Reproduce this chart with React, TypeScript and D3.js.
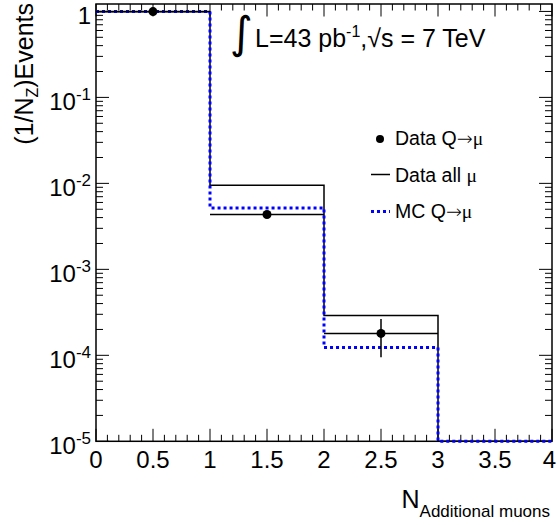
import React from "react";
import * as d3 from "d3";

// ---- data ----
const binEdges = [0, 1, 2, 3, 4];
const dataQ = [0.9955, 0.00435, 0.00018, 0];
const dataQErr = [0.003, 0.0004, 0.000085, 0];
const dataAll = [0.99, 0.0095, 0.00029, 0];
const mcQ = [0.9947, 0.00516, 0.000123, 0];
const xTickLabels = ["0", "0.5", "1", "1.5", "2", "2.5", "3", "3.5", "4"];
const yTickExps = [0, -1, -2, -3, -4, -5];

const W = 557;
const H = 525;
const left = 96;
const right = 552;
const top = 4;
const bottom = 441.3;

const font = "'Liberation Sans', Arial, Helvetica, sans-serif";
const arrowFont = "'DejaVu Sans', sans-serif";
const greekFont = "'Liberation Serif', serif";

export default function App() {
  const x = d3.scaleLinear().domain([0, 4]).range([left, right]);
  const y = d3.scaleLog().domain([1e-5, 1.22]).range([bottom, top]);
  const yv = (v: number) => (v > 0 ? y(v) : bottom);

  const stepPath = (vals: number[]) => {
    const p = d3.path();
    p.moveTo(x(binEdges[0]), yv(vals[0]));
    for (let i = 0; i < vals.length; i++) {
      p.lineTo(x(binEdges[i + 1]), yv(vals[i]));
      if (i + 1 < vals.length) p.lineTo(x(binEdges[i + 1]), yv(vals[i + 1]));
    }
    p.lineTo(x(binEdges[binEdges.length - 1]), bottom);
    return p.toString();
  };

  const xMinor = d3.range(0, 40.5, 1).map((k) => k / 10);
  const yMajor = yTickExps.map((e) => Math.pow(10, e));
  const yMinor: number[] = [];
  for (let e = -5; e <= 0; e++) {
    for (let k = 2; k <= 9; k++) {
      const v = k * Math.pow(10, e);
      if (v <= 1.22) yMinor.push(v);
    }
  }

  const tickStroke = { stroke: "#000", strokeWidth: 1 };

  return (
    <svg
      width={W}
      height={H}
      style={{ position: "absolute", left: 0, top: 0, background: "#fff" }}
      fontFamily={font}
    >
      <rect x={0} y={0} width={W} height={H} fill="#fff" />
      {xMinor.map((v, i) => {
        const major = i % 5 === 0;
        const len = major ? 12.5 : 6.5;
        const px = x(v);
        return (
          <g key={"xt" + i}>
            <line x1={px} x2={px} y1={bottom} y2={bottom - len} {...tickStroke} />
            <line x1={px} x2={px} y1={top} y2={top + len} {...tickStroke} />
          </g>
        );
      })}
      {yMajor.map((v, i) => (
        <g key={"yM" + i}>
          <line x1={left} x2={left + 13} y1={y(v)} y2={y(v)} {...tickStroke} />
          <line x1={right} x2={right - 13} y1={y(v)} y2={y(v)} {...tickStroke} />
        </g>
      ))}
      {yMinor.map((v, i) => (
        <g key={"ym" + i}>
          <line x1={left} x2={left + 7} y1={y(v)} y2={y(v)} {...tickStroke} />
          <line x1={right} x2={right - 7} y1={y(v)} y2={y(v)} {...tickStroke} />
        </g>
      ))}
      <rect
        x={left}
        y={top}
        width={right - left}
        height={bottom - top}
        fill="none"
        stroke="#000"
        strokeWidth={1.5}
      />
      {xTickLabels.map((t, i) => (
        <text
          key={"xl" + i}
          x={Math.min(x(+t), W - 7.5)}
          y={468}
          fontSize={24}
          textAnchor="middle"
        >
          {t}
        </text>
      ))}
      {yTickExps.map((e, i) =>
        e === 0 ? (
          <text key={"yl" + i} x={91} y={y(1) + 12.5} fontSize={24} textAnchor="end">
            1
          </text>
        ) : (
          <text key={"yl" + i} x={91} y={y(Math.pow(10, e)) + 13} fontSize={24} textAnchor="end">
            <tspan>10</tspan>
            <tspan fontSize={17} dy={-10.5}>
              {String(e)}
            </tspan>
          </text>
        )
      )}
      <text x={550} y={508} fontSize={25} textAnchor="end">
        <tspan>N</tspan>
        <tspan fontSize={17} dy={9}>
          Additional muons
        </tspan>
      </text>
      <text transform="translate(33,3) rotate(-90)" fontSize={25} textAnchor="end">
        <tspan>(1/N</tspan>
        <tspan fontSize={16} dy={5}>
          Z
        </tspan>
        <tspan dy={-5}>)Events</tspan>
      </text>

      <path d={stepPath(dataAll)} fill="none" stroke="#000" strokeWidth={1.5} />
      <path
        d={stepPath(mcQ)}
        fill="none"
        stroke="#0000ff"
        strokeWidth={3}
        strokeDasharray="3,3"
      />
      {dataQ.map((v, i) => {
        if (v <= 0) return null;
        const cx = x((binEdges[i] + binEdges[i + 1]) / 2);
        const cy = y(v);
        return (
          <g key={"dp" + i}>
            <line
              x1={x(binEdges[i])}
              x2={x(binEdges[i + 1])}
              y1={cy}
              y2={cy}
              stroke="#000"
              strokeWidth={1.5}
            />
            <line
              x1={cx}
              x2={cx}
              y1={y(v + dataQErr[i])}
              y2={y(Math.max(v - dataQErr[i], 1e-6))}
              stroke="#000"
              strokeWidth={1.5}
            />
            <circle cx={cx} cy={cy} r={4.5} fill="#000" />
          </g>
        );
      })}

      <text x={230} y={48} fontSize={44} fontFamily={arrowFont}>
        ∫
      </text>
      <text x={255} y={47} fontSize={25}>
        <tspan>L=43 pb</tspan>
        <tspan fontSize={16} dy={-10}>
          -1
        </tspan>
        <tspan dy={10}>,√s = 7 TeV</tspan>
      </text>

      <circle cx={380} cy={139} r={4} fill="#000" />
      <text x={395} y={145} fontSize={19.5}>
        Data Q<tspan fontFamily={arrowFont} fontSize={19} fontWeight={300}>→</tspan>
        <tspan fontFamily={greekFont}>μ</tspan>
      </text>
      <line x1={371} x2={390} y1={174.5} y2={174.5} stroke="#000" strokeWidth={1.5} />
      <text x={395} y={181.5} fontSize={19.5}>
        Data all <tspan fontFamily={greekFont}>μ</tspan>
      </text>
      <line
        x1={371}
        x2={390}
        y1={211.5}
        y2={211.5}
        stroke="#0000ff"
        strokeWidth={3}
        strokeDasharray="3,3"
      />
      <text x={395} y={218} fontSize={19.5}>
        MC Q<tspan fontFamily={arrowFont} fontSize={19} fontWeight={300}>→</tspan>
        <tspan fontFamily={greekFont}>μ</tspan>
      </text>
    </svg>
  );
}
